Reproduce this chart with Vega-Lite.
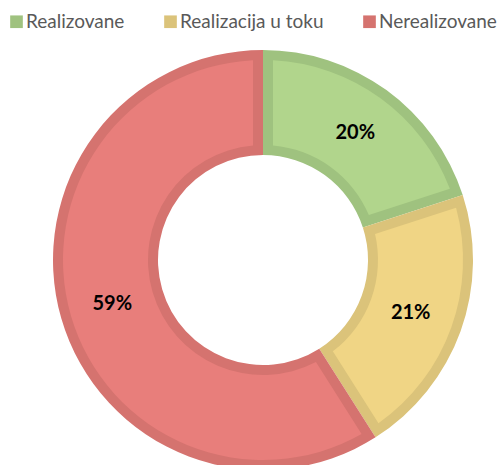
{
  "$schema": "https://vega.github.io/schema/vega-lite/v6.json",
  "autosize": "none",
  "width": 480,
  "height": 410,
  "padding": {"left": 23, "top": 55, "right": 0, "bottom": 0},
  "background": "white",
  "view": {"stroke": null},
  "data": {
    "values": [
      {"status": "Realizovane", "value": 20, "order": 1, "label": "20%"},
      {"status": "Realizacija u toku", "value": 21, "order": 2, "label": "21%"},
      {"status": "Nerealizovane", "value": 59, "order": 3, "label": "59%"}
    ]
  },
  "encoding": {
    "theta": {"field": "value", "type": "quantitative", "stack": true},
    "order": {"field": "order", "type": "quantitative"}
  },
  "layer": [
    {
      "mark": {"type": "arc", "outerRadius": 210, "innerRadius": 105},
      "encoding": {
        "color": {
          "field": "status",
          "type": "nominal",
          "sort": ["Realizovane", "Realizacija u toku", "Nerealizovane"],
          "scale": {"domain": ["Realizovane", "Realizacija u toku", "Nerealizovane"], "range": ["#9fc27f", "#dbc37a", "#d5736f"]},
          "legend": {
            "title": null,
            "orient": "none",
            "direction": "horizontal",
            "legendX": -16,
            "legendY": -43,
            "symbolType": "square",
            "symbolSize": 160,
            "symbolStrokeWidth": 0,
            "symbolOpacity": 1,
            "labelFont": "Lato",
            "labelFontSize": 19,
            "labelColor": "#595959",
            "columnPadding": 36,
            "labelOffset": 0
          }
        }
      }
    },
    {
      "mark": {"type": "arc", "outerRadius": 200, "innerRadius": 115, "padAngle": 0.0867},
      "encoding": {
        "fill": {
          "field": "status",
          "type": "nominal",
          "scale": {"domain": ["Realizovane", "Realizacija u toku", "Nerealizovane"], "range": ["#b1d58c", "#f0d585", "#e87e7b"]},
          "legend": null
        }
      }
    },
    {
      "mark": {"type": "text", "radius": 157, "font": "Lato", "fontSize": 20, "fontWeight": "bold", "color": "black"},
      "encoding": {
        "text": {"field": "label"}
      }
    }
  ]
}
